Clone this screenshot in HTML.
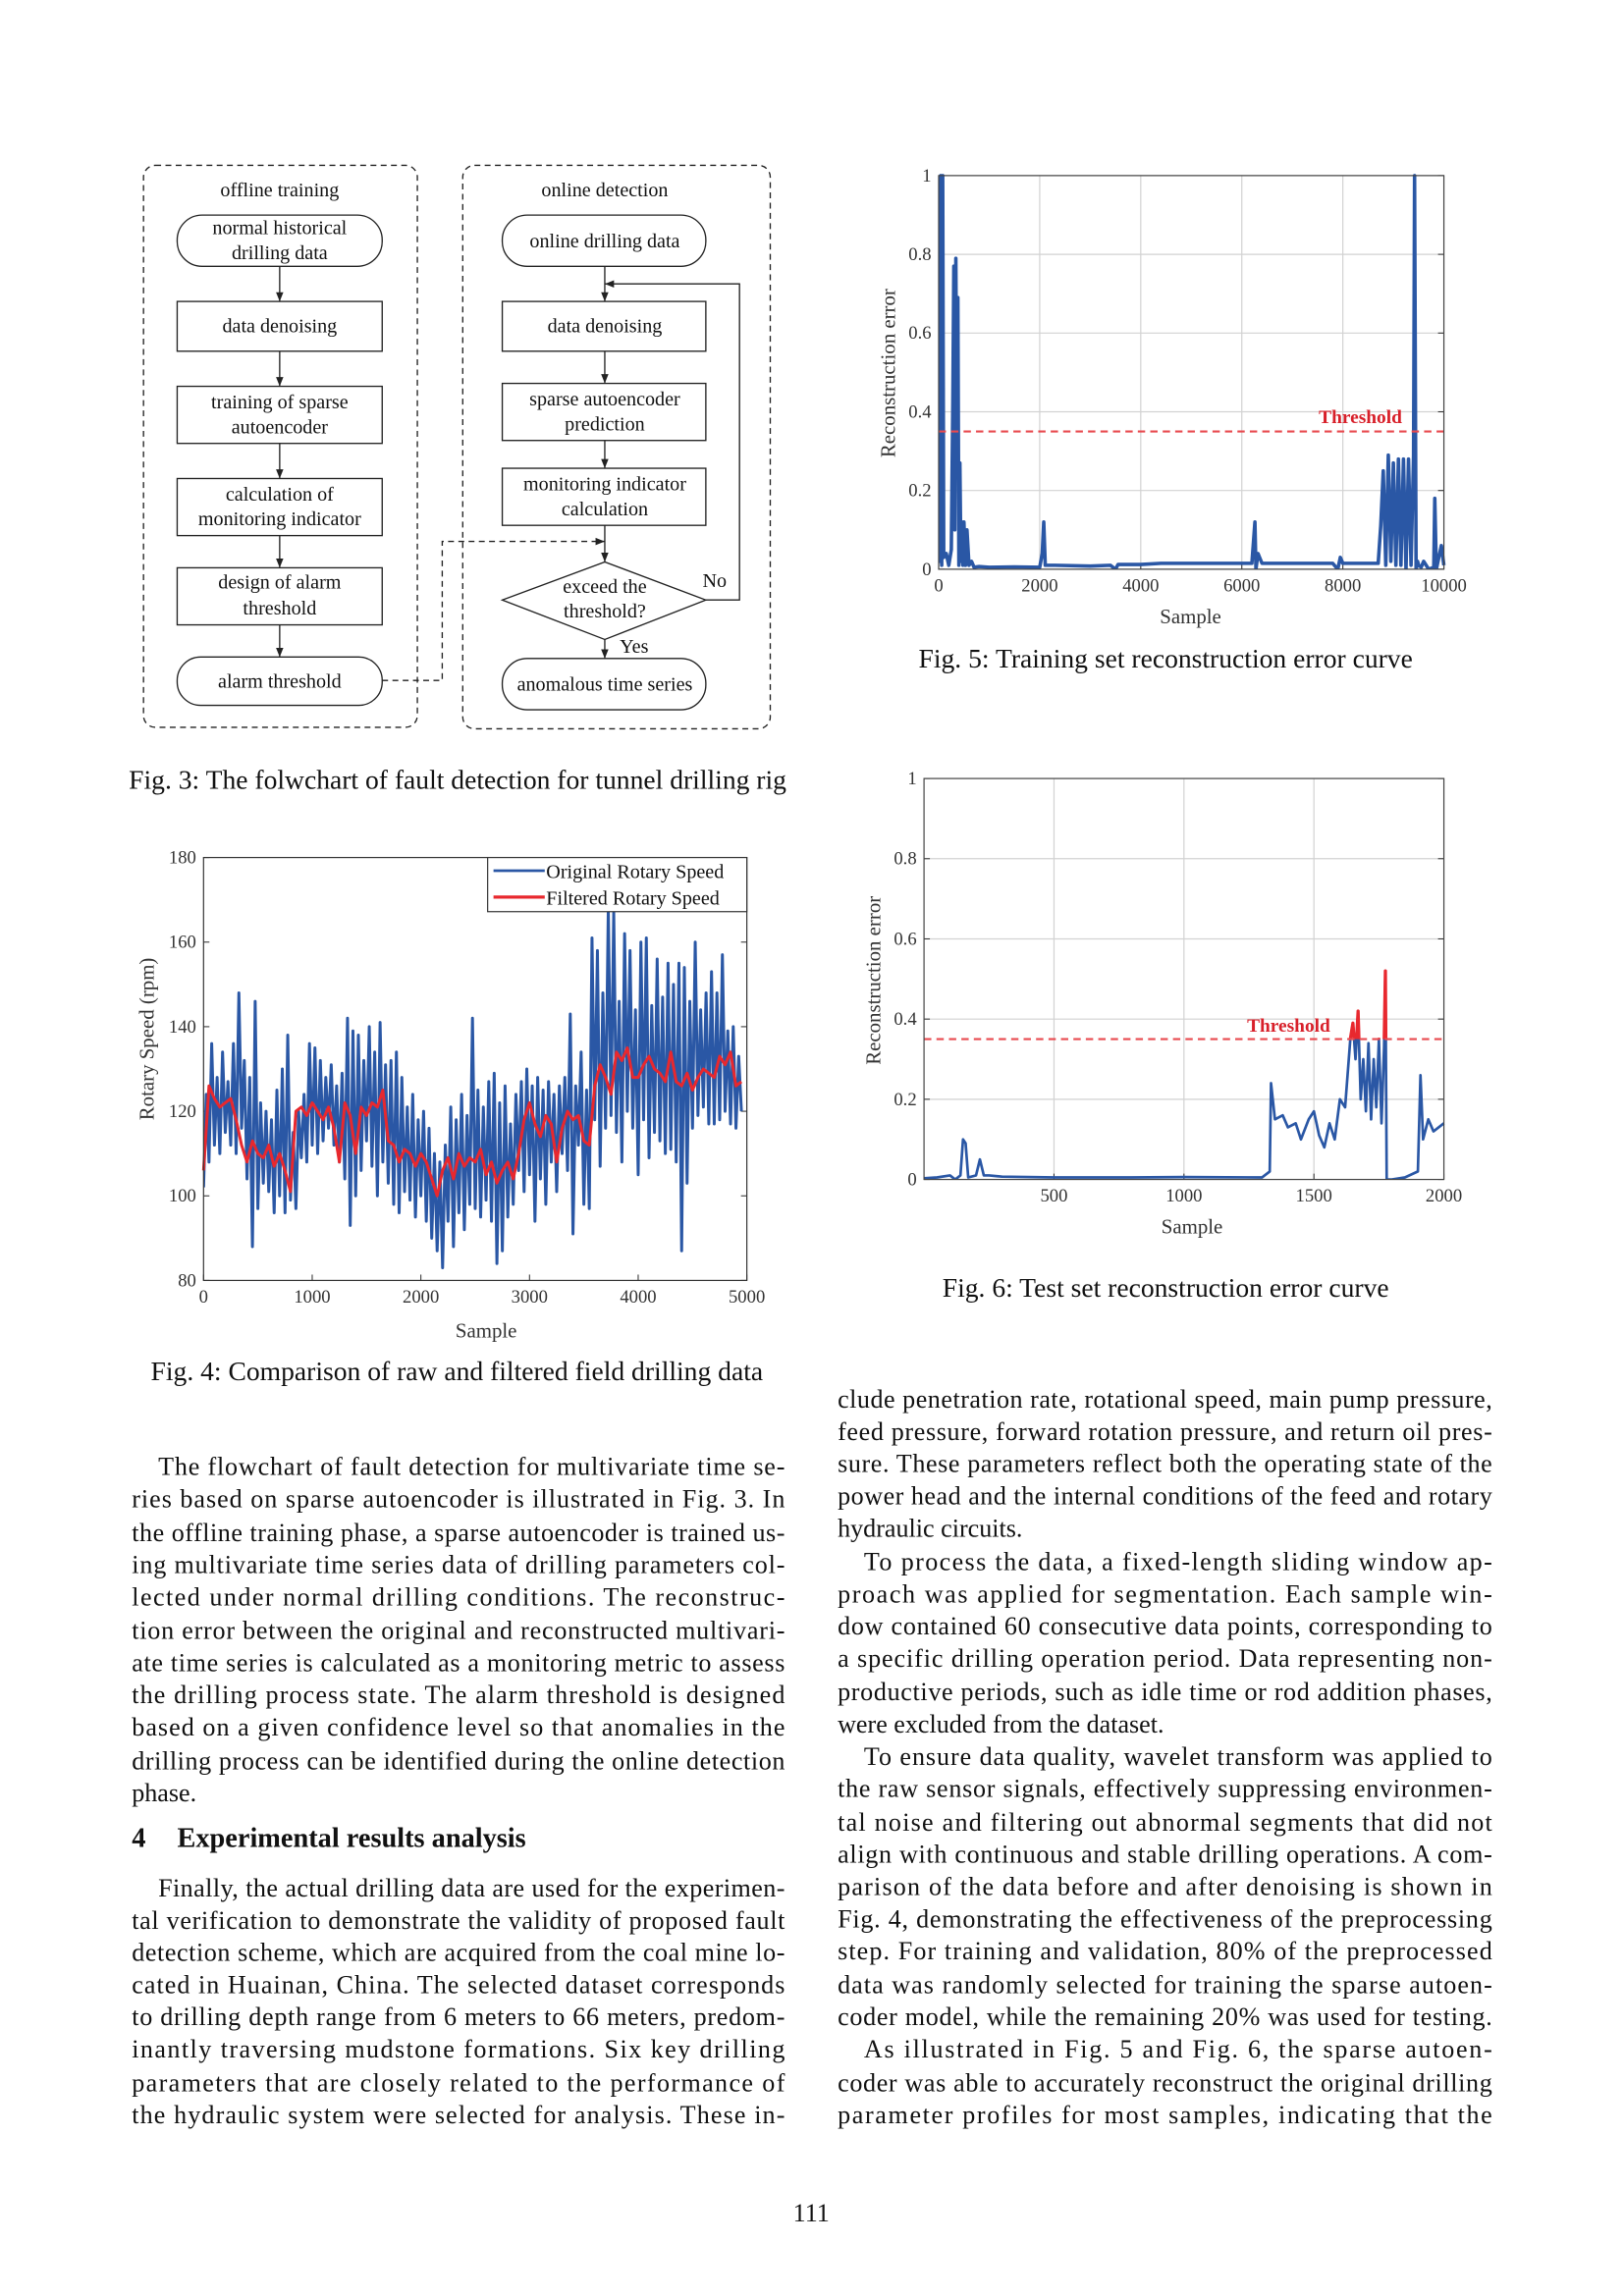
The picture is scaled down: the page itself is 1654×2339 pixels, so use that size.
<!DOCTYPE html>
<html><head><meta charset="utf-8"><style>
html,body{margin:0;padding:0;background:#fff}
svg{display:block}
text{font-family:"Liberation Serif",serif}
</style></head><body>
<svg id="page" xmlns="http://www.w3.org/2000/svg" width="1654" height="2339" viewBox="0 0 1109 1569" preserveAspectRatio="none">
<rect x="0" y="0" width="1109" height="1569" fill="#fff"/>
<defs><marker id="ar" viewBox="0 0 10 10" refX="10" refY="5" markerWidth="7" markerHeight="7" orient="auto"><path d="M0,1 L10,5 L0,9 z" fill="#222"/></marker></defs>
<g id="flow" stroke="#222" fill="none" stroke-width="0.9">
 <rect x="98" y="113" width="187" height="384" rx="8" stroke-dasharray="4,3"/>
 <rect x="316" y="113" width="210" height="385" rx="8" stroke-dasharray="4,3"/>
 <rect x="121" y="147" width="140" height="35" rx="17"/>
 <rect x="121" y="206" width="140" height="34"/>
 <rect x="121" y="264" width="140" height="39"/>
 <rect x="121" y="327" width="140" height="39"/>
 <rect x="121" y="388" width="140" height="39"/>
 <rect x="121" y="449" width="140" height="33" rx="16"/>
 <rect x="343" y="147" width="139" height="35" rx="17"/>
 <rect x="343" y="206" width="139" height="34"/>
 <rect x="343" y="262" width="139" height="39"/>
 <rect x="343" y="320" width="139" height="39"/>
 <path d="M343,410 L413,384 L482,410 L413,437 Z"/>
 <rect x="343" y="450" width="139" height="35" rx="17"/>
 <g marker-end="url(#ar)">
  <line x1="191" y1="182" x2="191" y2="206"/><line x1="191" y1="240" x2="191" y2="264"/><line x1="191" y1="303" x2="191" y2="327"/><line x1="191" y1="366" x2="191" y2="388"/><line x1="191" y1="427" x2="191" y2="449"/>
  <line x1="413" y1="182" x2="413" y2="206"/><line x1="413" y1="240" x2="413" y2="262"/><line x1="413" y1="301" x2="413" y2="320"/><line x1="413" y1="359" x2="413" y2="384"/><line x1="413" y1="437" x2="413" y2="450"/>
  <polyline points="482,410 505,410 505,194 413,194"/>
  <polyline points="261,465 302,465 302,370 413,370" stroke-dasharray="4,3"/>
 </g>
</g>
<g id="flowtext" font-size="13.5" text-anchor="middle" dominant-baseline="central" fill="#111"></g>
<g id="figs"></g>
<g id="body" font-size="17.5" fill="#111"></g>
</svg>
<script>
// ---------- Fig. 4 data ----------
const rawSpeed = [102,124,108,136,112,128,110,134,115,127,
112,136,110,148,116,132,104,128,88,146,
97,122,103,120,101,118,96,125,100,130,
96,138,99,115,97,120,109,124,108,136,
112,135,110,132,113,128,116,131,112,126,
108,129,104,142,93,139,100,138,106,132,
113,140,107,134,100,141,108,131,103,132,
98,134,96,128,101,121,99,124,95,118,
100,120,94,116,90,110,87,108,83,112,
94,121,88,118,96,124,92,119,98,142,
97,125,95,121,99,127,94,129,84,122,
87,126,95,117,98,124,106,127,101,130,
105,126,94,128,104,125,98,127,108,124,
101,126,110,128,106,143,91,126,112,134,
98,125,97,161,118,158,107,148,116,168,
119,167,115,146,108,162,120,158,116,144,
105,160,118,161,109,145,115,156,113,147,
110,155,111,150,108,155,87,154,103,146,
116,160,119,144,121,148,117,153,117,148,
118,157,120,139,117,140,116,133,120];
const rawStep = 25;
const filtSpeed = [106,126,123,121,122,123,118,112,108,113,
110,109,112,107,110,106,101,120,121,119,
122,120,118,121,116,108,122,119,110,121,
119,122,121,125,113,112,108,111,110,107,
110,108,104,100,106,109,104,110,107,109,
108,111,105,108,103,106,108,104,110,118,
122,117,114,119,117,108,116,120,118,119,
113,112,126,131,128,124,134,132,135,128,
128,131,133,130,129,127,134,127,126,129,
125,128,130,129,128,133,131,134,126,127];
const filtStep = 50;
const speedTicksY = [80,100,120,140,160,180];
const speedTicksX = [0,1000,2000,3000,4000,5000];
// ---------- Fig. 5 data ----------
const trainX = [0,20,40,60,80,100,150,200,250,280,300,320,340,360,380,400,420,440,460,480,500,530,560,600,650,700,800,1000,1500,2000,2050,2080,2110,2150,2300,3000,3400,3500,3550,4000,4400,4800,5000,6000,6200,6260,6280,6320,6400,7000,7800,7900,7950,8000,8700,8750,8800,8850,8900,8950,9000,9050,9100,9150,9200,9250,9300,9350,9400,9420,9450,9480,9500,9550,9600,9700,9800,9820,9850,9900,9950,10000];
const trainErr = [0.82,0.02,1.0,0.01,1.0,0.03,0.04,0.01,0.05,0.42,0.77,0.1,0.79,0.3,0.69,0.01,0.27,0.02,0.12,0.01,0.12,0.01,0.1,0.01,0.02,0.005,0.007,0.005,0.006,0.005,0.04,0.12,0.01,0.01,0.01,0.008,0.01,0.0,0.012,0.012,0.015,0.015,0.015,0.015,0.015,0.12,0.0,0.04,0.015,0.015,0.015,0.0,0.03,0.015,0.015,0.11,0.25,0.01,0.29,0.02,0.27,0.01,0.28,0.01,0.28,0.0,0.28,0.01,0.29,1.0,0.0,0.02,0.01,0.005,0.02,0.0,0.005,0.18,0.0,0.03,0.06,0.01];
const trainThreshold = 0.35;
const errTicksY = [0,0.2,0.4,0.6,0.8,1];
const errTickLabelsY = ["0","0.2","0.4","0.6","0.8","1"];
const trainTicksX = [0,2000,4000,6000,8000,10000];
// ---------- Fig. 6 data ----------
const testX = [0,50,100,120,140,150,160,170,200,215,230,250,300,500,800,1000,1300,1330,1335,1350,1380,1400,1430,1450,1480,1500,1520,1540,1560,1580,1600,1620,1640,1650,1660,1670,1680,1690,1700,1710,1720,1730,1740,1750,1760,1770,1775,1780,1800,1850,1900,1910,1920,1940,1960,1980,2000];
const testErr = [0.003,0.005,0.01,0.0,0.01,0.1,0.09,0.005,0.01,0.05,0.01,0.01,0.007,0.005,0.005,0.006,0.005,0.02,0.24,0.15,0.16,0.13,0.14,0.1,0.15,0.17,0.11,0.08,0.14,0.1,0.2,0.18,0.35,0.39,0.3,0.42,0.2,0.3,0.17,0.34,0.15,0.3,0.18,0.35,0.14,0.33,0.52,0.0,0.0,0.005,0.02,0.26,0.1,0.15,0.12,0.13,0.14];
const testThreshold = 0.35;
const testTicksX = [500,1000,1500,2000];

const NS = "http://www.w3.org/2000/svg";
function mk(parent, tag, attrs, txt){
  const e = document.createElementNS(NS, tag);
  for (const k in attrs) e.setAttribute(k, attrs[k]);
  if (txt !== undefined) e.textContent = txt;
  parent.appendChild(e);
  return e;
}
const figs = document.getElementById('figs');

function axes(g, L, R, T, B, xmin, xmax, ymin, ymax, xt, yt, ytl, grid, name){
  const sx = v => L + (v - xmin) / (xmax - xmin) * (R - L);
  const sy = v => B - (v - ymin) / (ymax - ymin) * (B - T);
  if (grid) {
    xt.forEach(v => { const l = mk(g,'line',{x1:sx(v),x2:sx(v),y1:T,y2:B,stroke:'#d2d2d2','stroke-width':0.8});
      
       });
    yt.forEach(v => { const l = mk(g,'line',{x1:L,x2:R,y1:sy(v),y2:sy(v),stroke:'#d2d2d2','stroke-width':0.8});
      
       });
  }
  xt.forEach(v => {
    const t = mk(g,'text',{x:sx(v),y:B+15,'font-size':12.5,'text-anchor':'middle',fill:'#333'}, String(v));
    
    
    mk(g,'line',{x1:sx(v),x2:sx(v),y1:B,y2:B-4,stroke:'#333','stroke-width':0.7});
  });
  yt.forEach((v,i) => {
    const t = mk(g,'text',{x:L-5,y:sy(v)+4,'font-size':12.5,'text-anchor':'end',fill:'#333'}, ytl ? ytl[i] : String(v));
    
    
    mk(g,'line',{x1:L,x2:L+4,y1:sy(v),y2:sy(v),stroke:'#333','stroke-width':0.7});
    mk(g,'line',{x1:R,x2:R-4,y1:sy(v),y2:sy(v),stroke:'#333','stroke-width':0.7});
  });
  return {sx, sy};
}
function pathD(xs, ys, sx, sy){
  return xs.map((x,i) => (i ? 'L' : 'M') + sx(x).toFixed(2) + ',' + sy(ys[i]).toFixed(2)).join(' ');
}

// ---------- Fig. 4 ----------
(function(){
  const g = mk(figs,'g',{});
  
  
  const L=139,R=510,T=586,B=875;
  const a = axes(g,L,R,T,B,0,5000,80,180,speedTicksX,speedTicksY,null,false,'speed');
  const cp = mk(g,'clipPath',{id:'c4'}); mk(cp,'rect',{x:L,y:T,width:R-L,height:B-T});
  const rx = rawSpeed.map((v,i)=>i*rawStep);
  const p1 = mk(g,'path',{d:pathD(rx,rawSpeed,a.sx,a.sy),fill:'none',stroke:'#2a57a5','stroke-width':2.0,'clip-path':'url(#c4)','stroke-linejoin':'round'});
  
  
  const fx = filtSpeed.map((v,i)=>i*filtStep);
  const p2 = mk(g,'path',{d:pathD(fx,filtSpeed,a.sx,a.sy),fill:'none',stroke:'#e8282e','stroke-width':2.0,'stroke-linejoin':'round'});
  
  
  const fr = mk(g,'rect',{x:L,y:T,width:R-L,height:B-T,fill:'none',stroke:'#333','stroke-width':0.8});
  
  
  const lg = mk(g,'g',{});
  
  
  mk(lg,'rect',{x:333,y:586,width:177,height:37,fill:'#fff',stroke:'#333','stroke-width':0.8});
  mk(lg,'line',{x1:337,x2:372,y1:595,y2:595,stroke:'#2a57a5','stroke-width':1.8});
  mk(lg,'line',{x1:337,x2:372,y1:613,y2:613,stroke:'#e8282e','stroke-width':2.2});
  const le1 = mk(lg,'text',{x:373,y:600,'font-size':13.5,fill:'#111'}, 'Original Rotary Speed');
  
  
  const le2 = mk(lg,'text',{x:373,y:618,'font-size':13.5,fill:'#111'}, 'Filtered Rotary Speed');
  
  
  const xt = mk(g,'text',{x:332,y:914,'font-size':14,'text-anchor':'middle',fill:'#333'}, 'Sample');
  
  
  const yt = mk(g,'text',{x:0,y:0,'font-size':14,'text-anchor':'middle',fill:'#333',transform:'translate(105,710) rotate(-90)'}, 'Rotary Speed (rpm)');
  
  
})();

function errChart(name, L,R,T,B, xmax, xs, ys, thr, xt, thrLabelX, thrLabelY, redAbove, lw){
  const g = mk(figs,'g',{});
  
  
  const a = axes(g,L,R,T,B,0,xmax,0,1,xt,errTicksY,errTickLabelsY,true,name);
  const id = 'c' + name;
  const cp = mk(g,'clipPath',{id:id}); mk(cp,'rect',{x:L,y:T-2,width:R-L+2,height:B-T+2});
  const p = mk(g,'path',{d:pathD(xs,ys,a.sx,a.sy),fill:'none',stroke:'#2a57a5','stroke-width':lw,'clip-path':'url(#'+id+')','stroke-linejoin':'round'});
  
  
  if (redAbove) {
    const cp2 = mk(g,'clipPath',{id:id+'r'}); mk(cp2,'rect',{x:L,y:T,width:R-L,height:a.sy(thr)-T});
    const pr = mk(g,'path',{d:pathD(xs,ys,a.sx,a.sy),fill:'none',stroke:'#e8282e','stroke-width':lw+0.4,'clip-path':'url(#'+id+'r)','stroke-linejoin':'round'});
    
    
  }
  const th = mk(g,'line',{x1:L,x2:R,y1:a.sy(thr),y2:a.sy(thr),stroke:'#e84a4f','stroke-width':1.4,'stroke-dasharray':'5,3.5'});
  
  
  const tl = mk(g,'text',{x:thrLabelX,y:thrLabelY,'font-size':13,'font-weight':'bold','text-anchor':'middle',fill:'#d8202a'}, 'Threshold');
  
  
  const fr = mk(g,'rect',{x:L,y:T,width:R-L,height:B-T,fill:'none',stroke:'#444','stroke-width':0.8});
  
  
  return {g, a};
}
// ---------- Fig. 5 ----------
(function(){
  const c = errChart('train',641,986,120,389,10000,trainX,trainErr,trainThreshold,trainTicksX,929,289,false,2.4);
  const xt = mk(c.g,'text',{x:813,y:426,'font-size':14,'text-anchor':'middle',fill:'#333'}, 'Sample');
  
  
  const yt = mk(c.g,'text',{x:0,y:0,'font-size':14,'text-anchor':'middle',fill:'#333',transform:'translate(611,255) rotate(-90)'}, 'Reconstruction error');
  
  
})();
// ---------- Fig. 6 ----------
(function(){
  const c = errChart('test',631,986,532,806,2000,testX,testErr,testThreshold,testTicksX,880,705,true,1.8);
  const xt = mk(c.g,'text',{x:814,y:843,'font-size':14,'text-anchor':'middle',fill:'#333'}, 'Sample');
  
  
  const yt = mk(c.g,'text',{x:0,y:0,'font-size':14,'text-anchor':'middle',fill:'#333',transform:'translate(601,670) rotate(-90)'}, 'Reconstruction error');
  
  
})();

// ---------- flowchart text ----------
const flowLabels = [
 [191,130,'offline training'],[191,156,'normal historical'],[191,173,'drilling data'],[191,223,'data denoising'],
 [191,275,'training of sparse'],[191,292,'autoencoder'],[191,338,'calculation of'],[191,355,'monitoring indicator'],
 [191,398,'design of alarm'],[191,416,'threshold'],[191,466,'alarm threshold'],
 [413,130,'online detection'],[413,165,'online drilling data'],[413,223,'data denoising'],[413,273,'sparse autoencoder'],
 [413,290,'prediction'],[413,331,'monitoring indicator'],[413,348,'calculation'],[413,401,'exceed the'],[413,418,'threshold?'],
 [413,468,'anomalous time series'],[488,397,'No'],[433,442,'Yes']];
const ft = document.getElementById('flowtext');


flowLabels.forEach(f => {
  const t = mk(ft,'text',{x:f[0],y:f[1]}, f[2]);
  
  
});

// ---------- captions & body ----------
const body = document.getElementById('body');
const captions = [[312.5,539,'Fig. 3: The folwchart of fault detection for tunnel drilling rig',18.5],
 [312,943,'Fig. 4: Comparison of raw and filtered field drilling data',18.5],
 [796,456,'Fig. 5: Training set reconstruction error curve',18.5],
 [796,886,'Fig. 6: Test set reconstruction error curve',18.5],
 [554,1518,'111',17.5]];
captions.forEach(c => {
  const t = mk(body,'text',{x:c[0],y:c[1],'text-anchor':'middle','font-size':c[3]}, c[2]);
  
  
});
const lines = [
 [108,536,1002,'The flowchart of fault detection for multivariate time se-',1],
 [90,536,1024,'ries based on sparse autoencoder is illustrated in Fig. 3.  In',1],
 [90,536,1047,'the offline training phase, a sparse autoencoder is trained us-',1],
 [90,536,1069,'ing multivariate time series data of drilling parameters col-',1],
 [90,536,1091,'lected under normal drilling conditions.  The reconstruc-',1],
 [90,536,1114,'tion error between the original and reconstructed multivari-',1],
 [90,536,1136,'ate time series is calculated as a monitoring metric to assess',1],
 [90,536,1158,'the drilling process state.  The alarm threshold is designed',1],
 [90,536,1180,'based on a given confidence level so that anomalies in the',1],
 [90,536,1203,'drilling process can be identified during the online detection',1],
 [90,536,1225,'phase.',0],
 [108,536,1290,'Finally, the actual drilling data are used for the experimen-',1],
 [90,536,1312,'tal verification to demonstrate the validity of proposed fault',1],
 [90,536,1334,'detection scheme, which are acquired from the coal mine lo-',1],
 [90,536,1356,'cated in Huainan, China.  The selected dataset corresponds',1],
 [90,536,1378,'to drilling depth range from 6 meters to 66 meters, predom-',1],
 [90,536,1400,'inantly traversing mudstone formations.  Six key drilling',1],
 [90,536,1423,'parameters that are closely related to the performance of',1],
 [90,536,1445,'the hydraulic system were selected for analysis.  These in-',1],
 [572,1019,956,'clude penetration rate, rotational speed, main pump pressure,',1],
 [572,1019,978,'feed pressure, forward rotation pressure, and return oil pres-',1],
 [572,1019,1000,'sure. These parameters reflect both the operating state of the',1],
 [572,1019,1022,'power head and the internal conditions of the feed and rotary',1],
 [572,1019,1044,'hydraulic circuits.',0],
 [590,1019,1067,'To process the data, a fixed-length sliding window ap-',1],
 [572,1019,1089,'proach was applied for segmentation.  Each sample win-',1],
 [572,1019,1111,'dow contained 60 consecutive data points, corresponding to',1],
 [572,1019,1133,'a specific drilling operation period.  Data representing non-',1],
 [572,1019,1156,'productive periods, such as idle time or rod addition phases,',1],
 [572,1019,1178,'were excluded from the dataset.',0],
 [590,1019,1200,'To ensure data quality, wavelet transform was applied to',1],
 [572,1019,1222,'the raw sensor signals, effectively suppressing environmen-',1],
 [572,1019,1245,'tal noise and filtering out abnormal segments that did not',1],
 [572,1019,1267,'align with continuous and stable drilling operations. A com-',1],
 [572,1019,1289,'parison of the data before and after denoising is shown in',1],
 [572,1019,1311,'Fig. 4, demonstrating the effectiveness of the preprocessing',1],
 [572,1019,1333,'step.  For training and validation, 80% of the preprocessed',1],
 [572,1019,1356,'data was randomly selected for training the sparse autoen-',1],
 [572,1019,1378,'coder model, while the remaining 20% was used for testing.',1],
 [590,1019,1400,'As illustrated in Fig. 5 and Fig. 6, the sparse autoen-',1],
 [572,1019,1423,'coder was able to accurately reconstruct the original drilling',1],
 [572,1019,1445,'parameter profiles for most samples, indicating that the',1]];
lines.forEach(l => {
  const a = {x:l[0], y:l[2]+6, 'xml:space':'preserve'};
  if (l[4]) { a.textLength = l[1]-l[0]; a.lengthAdjust = 'spacing'; }
  const t = mk(body,'text',a, l[3]);
  
  
});
const h1 = mk(body,'text',{x:90,y:1262,'font-size':19,'font-weight':'bold'}, '4');


const h2 = mk(body,'text',{x:121,y:1262,'font-size':19,'font-weight':'bold'}, 'Experimental results analysis');


</script>
</body></html>
